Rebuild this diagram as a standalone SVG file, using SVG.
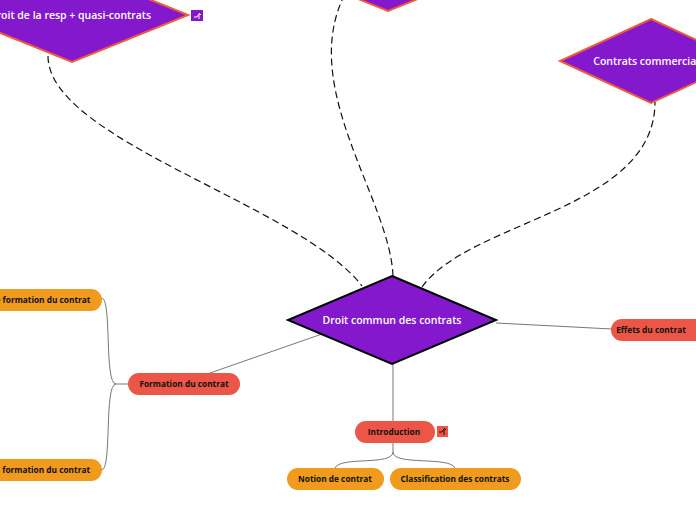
<svg xmlns="http://www.w3.org/2000/svg" width="696" height="520" viewBox="0 0 696 520">
<style>
.dia{fill:#8418CC;stroke:#EE5A3C;stroke-width:2}
.diac{fill:#8418CC;stroke:#000;stroke-width:2}
.dt{font-family:"Open Sans","Liberation Sans",sans-serif;font-weight:600;font-size:10.5px;fill:#fff;text-anchor:middle}
.red{fill:#EB5646}
.org{fill:#F09A1E}
.nt{font-family:"Open Sans","Liberation Sans",sans-serif;font-weight:700;font-size:8.3px;fill:#111;text-anchor:middle}
.dash{fill:none;stroke:#111;stroke-width:1.2;stroke-dasharray:7 4}
.sol{fill:none;stroke:#777;stroke-width:1}
.ico{fill:none;stroke:#fff;stroke-width:1}
</style>
<rect width="696" height="520" fill="#fff"/>
<g id="connectors">
<path class="dash" d="M48,56 C48,140 300,205 362,286"/>
<path class="dash" d="M393,276 C390,200 300,90 343,-2"/>
<path class="dash" d="M422,287 C470,220 655,210 655,102"/>
<path class="sol" d="M322,334 L210,373"/>
<path class="sol" d="M496,323 L612,329"/>
<path class="sol" d="M393,364 L393,421"/>
<path class="sol" d="M128,384 L116,384 C104,384 112,300 102,298"/>
<path class="sol" d="M116,384 C104,384 112,468 102,470"/>
<path class="sol" d="M393,443 L393,452 C393,466 340,456 335,468"/>
<path class="sol" d="M393,452 C393,466 450,456 455,468"/>
</g>
<g id="n-resp">
<polygon class="dia" points="72,-32 188,15 72,62 -44,15"/>
<text class="dt" x="70" y="19">Droit de la resp + quasi-contrats</text>
<rect x="191" y="10" width="12" height="11" fill="#8418CC"/>
<path class="ico" d="M194,17 L197,17 L199,14 M199,14 L199,19 M201,15 L199,13"/>
</g>
<g id="n-top">
<polygon class="dia" points="388,-83 504,-36 388,11 272,-36"/>
</g>
<g id="n-comm">
<polygon class="dia" points="651,19 742,61 651,103 560,61"/>
<text class="dt" x="651" y="65">Contrats commerciaux</text>
</g>
<g id="n-center">
<polygon class="diac" points="392,276 496,320 392,364 288,320"/>
<text class="dt" x="392" y="324">Droit commun des contrats</text>
</g>
<g id="n-formation">
<rect class="red" x="128" y="373" width="112" height="22" rx="11"/>
<text class="nt" x="184" y="387">Formation du contrat</text>
</g>
<g id="n-cond">
<rect class="org" x="-60" y="289" width="162" height="22" rx="11"/>
<text class="nt" x="17" y="303">Conditions de formation du contrat</text>
</g>
<g id="n-sanc">
<rect class="org" x="-60" y="459" width="162" height="22" rx="11"/>
<text class="nt" x="16" y="473">Sanction de la formation du contrat</text>
</g>
<g id="n-effets">
<rect class="red" x="611" y="319" width="110" height="22" rx="11"/>
<text class="nt" x="651" y="333">Effets du contrat</text>
</g>
<g id="n-intro">
<rect class="red" x="355" y="421" width="80" height="22" rx="11"/>
<text class="nt" x="394" y="435">Introduction</text>
<rect x="437" y="426" width="11" height="11" fill="#EB5646"/>
<path d="M439,432 L442,432 L444,429 M444,429 L444,435 M446,430 L444,428" fill="none" stroke="#111" stroke-width="1"/>
</g>
<g id="n-notion">
<rect class="org" x="287" y="468" width="97" height="22" rx="11"/>
<text class="nt" x="335" y="482">Notion de contrat</text>
</g>
<g id="n-classif">
<rect class="org" x="390" y="468" width="131" height="22" rx="11"/>
<text class="nt" x="455" y="482">Classification des contrats</text>
</g>
</svg>
